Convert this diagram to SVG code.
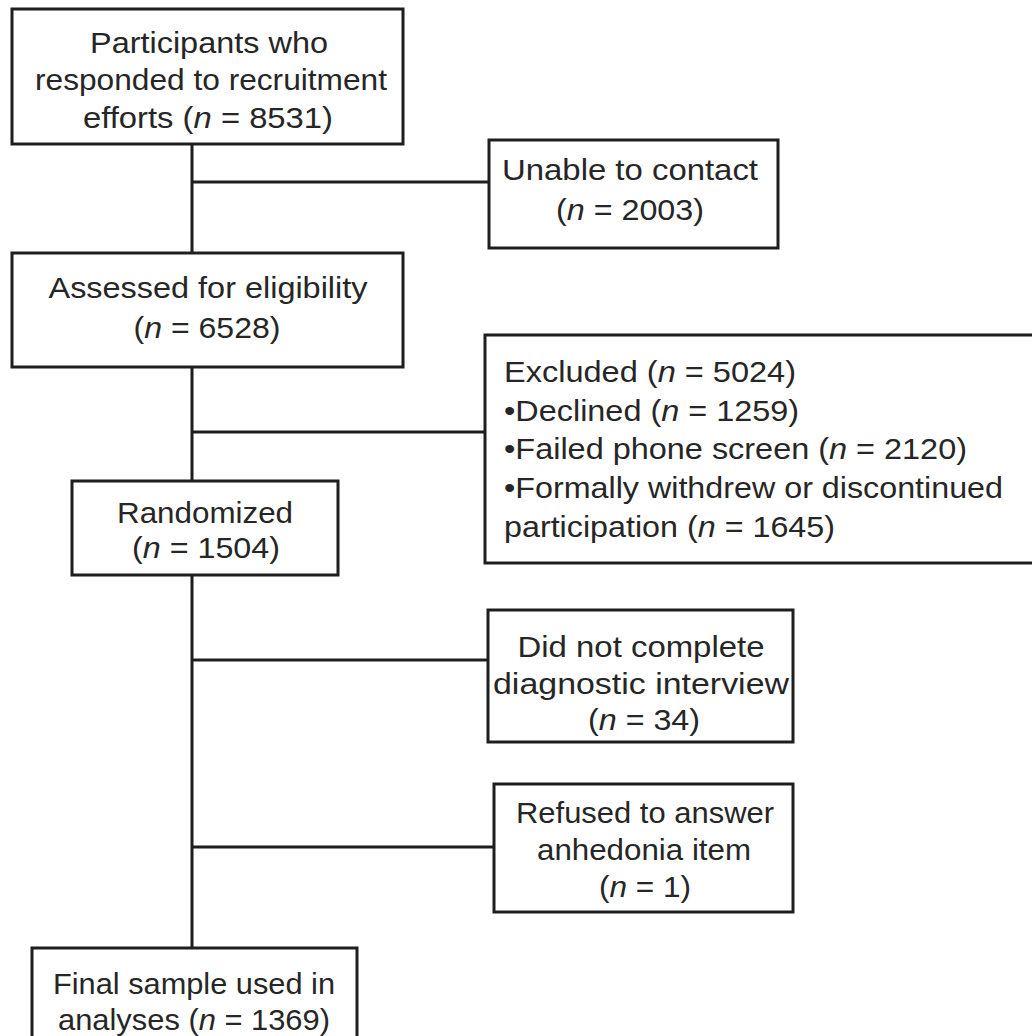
<svg xmlns="http://www.w3.org/2000/svg" width="1032" height="1036" viewBox="0 0 1032 1036">
<style>
.box{fill:#ffffff;stroke:#1e1e1e;stroke-width:3}
.conn{stroke:#1e1e1e;stroke-width:3;fill:none}
text{font-family:"Liberation Sans",Arial,sans-serif;font-size:29.5px;fill:#262626}
.c{text-anchor:middle}
.i{font-style:italic}
</style>
<rect width="1032" height="1036" fill="#ffffff"/>
<g id="connectors">
<line class="conn" x1="192" y1="144" x2="192" y2="253"/>
<line class="conn" x1="192" y1="182" x2="489" y2="182"/>
<line class="conn" x1="192" y1="367" x2="192" y2="481"/>
<line class="conn" x1="192" y1="432" x2="485" y2="432"/>
<line class="conn" x1="192" y1="575" x2="192" y2="948"/>
<line class="conn" x1="192" y1="660" x2="488" y2="660"/>
<line class="conn" x1="192" y1="847" x2="494" y2="847"/>
</g>
<g id="n1">
<rect class="box" x="12" y="9" width="391" height="135"/>
<text class="c" x="209" y="53" textLength="238" lengthAdjust="spacingAndGlyphs">Participants who</text>
<text class="c" x="211" y="90" textLength="352" lengthAdjust="spacingAndGlyphs">responded to recruitment</text>
<text class="c" x="208" y="128" textLength="250" lengthAdjust="spacingAndGlyphs">efforts (<tspan class="i">n</tspan> = 8531)</text>
</g>
<g id="n2">
<rect class="box" x="489" y="140" width="289" height="108"/>
<text class="c" x="630" y="180" textLength="256" lengthAdjust="spacingAndGlyphs">Unable to contact</text>
<text class="c" x="630" y="220" textLength="148" lengthAdjust="spacingAndGlyphs">(<tspan class="i">n</tspan> = 2003)</text>
</g>
<g id="n3">
<rect class="box" x="12" y="253" width="391" height="114"/>
<text class="c" x="208" y="298" textLength="319" lengthAdjust="spacingAndGlyphs">Assessed for eligibility</text>
<text class="c" x="207" y="338" textLength="147" lengthAdjust="spacingAndGlyphs">(<tspan class="i">n</tspan> = 6528)</text>
</g>
<g id="n4">
<rect class="box" x="485" y="335" width="560" height="228"/>
<text x="504" y="382" textLength="292" lengthAdjust="spacingAndGlyphs">Excluded (<tspan class="i">n</tspan> = 5024)</text>
<text x="504" y="421" textLength="295" lengthAdjust="spacingAndGlyphs">•Declined (<tspan class="i">n</tspan> = 1259)</text>
<text x="504" y="459" textLength="463" lengthAdjust="spacingAndGlyphs">•Failed phone screen (<tspan class="i">n</tspan> = 2120)</text>
<text x="504" y="498" textLength="499" lengthAdjust="spacingAndGlyphs">•Formally withdrew or discontinued</text>
<text x="504" y="537" textLength="331" lengthAdjust="spacingAndGlyphs">participation (<tspan class="i">n</tspan> = 1645)</text>
</g>
<g id="n5">
<rect class="box" x="72" y="481" width="266" height="94"/>
<text class="c" x="205" y="523" textLength="176" lengthAdjust="spacingAndGlyphs">Randomized</text>
<text class="c" x="206" y="558" textLength="148" lengthAdjust="spacingAndGlyphs">(<tspan class="i">n</tspan> = 1504)</text>
</g>
<g id="n6">
<rect class="box" x="488" y="610" width="305" height="132"/>
<text class="c" x="641" y="657" textLength="247" lengthAdjust="spacingAndGlyphs">Did not complete</text>
<text class="c" x="641" y="694" textLength="296" lengthAdjust="spacingAndGlyphs">diagnostic interview</text>
<text class="c" x="644" y="730" textLength="112" lengthAdjust="spacingAndGlyphs">(<tspan class="i">n</tspan> = 34)</text>
</g>
<g id="n7">
<rect class="box" x="494" y="784" width="299" height="128"/>
<text class="c" x="645" y="823" textLength="258" lengthAdjust="spacingAndGlyphs">Refused to answer</text>
<text class="c" x="644" y="860" textLength="214" lengthAdjust="spacingAndGlyphs">anhedonia item</text>
<text class="c" x="645" y="897" textLength="92" lengthAdjust="spacingAndGlyphs">(<tspan class="i">n</tspan> = 1)</text>
</g>
<g id="n8">
<rect class="box" x="32" y="948" width="325" height="100"/>
<text class="c" x="194" y="994" textLength="282" lengthAdjust="spacingAndGlyphs">Final sample used in</text>
<text class="c" x="194" y="1030" textLength="272" lengthAdjust="spacingAndGlyphs">analyses (<tspan class="i">n</tspan> = 1369)</text>
</g>
</svg>
